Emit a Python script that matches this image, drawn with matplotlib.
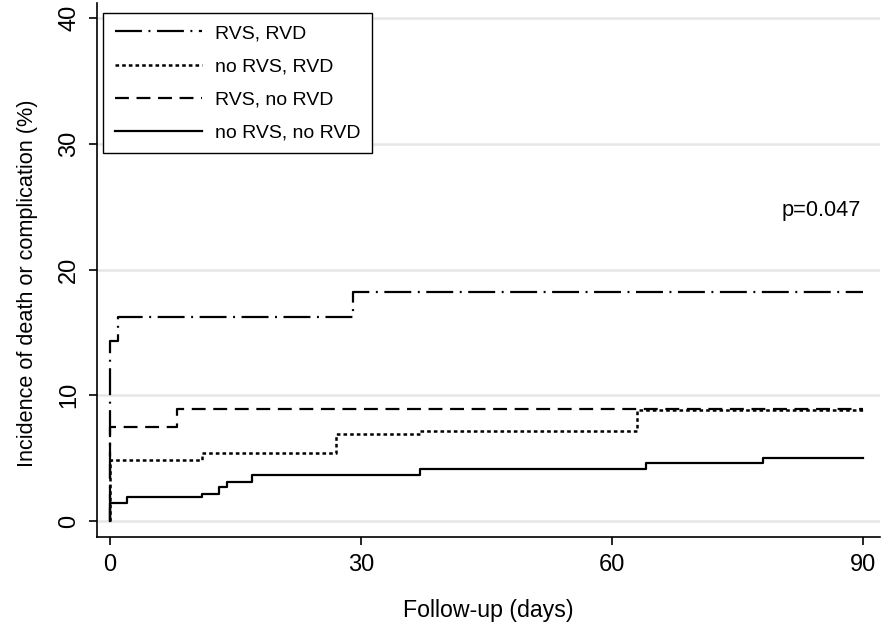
import matplotlib
matplotlib.use("Agg")
import matplotlib.pyplot as plt

plt.rcParams['font.family'] = ['Liberation Sans', 'DejaVu Sans']
plt.rcParams['lines.scale_dashes'] = False

# Data (step functions: time in days, cumulative incidence %)
t_rvs_rvd = [0, 0, 1, 29, 90]
y_rvs_rvd = [0, 14.3, 16.2, 18.2, 18.2]

t_norvs_rvd = [0, 0, 11, 27, 37, 63, 90]
y_norvs_rvd = [0, 4.85, 5.4, 6.9, 7.2, 8.8, 8.8]

t_rvs_norvd = [0, 0, 8, 90]
y_rvs_norvd = [0, 7.5, 8.9, 8.9]

t_norvs_norvd = [0, 0, 2, 11, 13, 14, 17, 37, 64, 78, 90]
y_norvs_norvd = [0, 1.4, 1.9, 2.15, 2.7, 3.1, 3.65, 4.1, 4.6, 5.05, 5.05]

labels = ["RVS, RVD", "no RVS, RVD", "RVS, no RVD", "no RVS, no RVD"]
xticks = [0, 30, 60, 90]
yticks = [0, 10, 20, 30, 40]

fig = plt.figure(figsize=(8.82, 6.24), dpi=100)
ax = fig.add_axes([97/882, 1 - 537/624, (880 - 97)/882, (537 - 3)/624])

lw = 1.6
ax.plot(t_rvs_rvd, y_rvs_rvd, drawstyle='steps-post', color='black', lw=lw,
        linestyle=(0, (19.4, 4.7, 1.4, 4.7)), label=labels[0])
ax.plot(t_norvs_rvd, y_norvs_rvd, drawstyle='steps-post', color='black', lw=1.8,
        linestyle=(0, (2.6, 2.2)), label=labels[1])
ax.plot(t_rvs_norvd, y_rvs_norvd, drawstyle='steps-post', color='black', lw=lw,
        linestyle=(0, (10, 5.5)), label=labels[2])
ax.plot(t_norvs_norvd, y_norvs_norvd, drawstyle='steps-post', color='black', lw=lw,
        linestyle='-', label=labels[3])

ax.set_xlim(-1.55, 92.0)
ax.set_ylim(-1.27, 41.2)
ax.set_xticks(xticks)
ax.set_yticks(yticks)
ax.set_yticklabels([str(v) for v in yticks], rotation=90, va='center')
ax.tick_params(axis='both', labelsize=17, length=6, width=1.2, direction='out', pad=6)
ax.yaxis.grid(True, color='#e6e6e6', lw=1.8)
ax.set_axisbelow(True)
for s in ['top', 'right']:
    ax.spines[s].set_visible(False)
for s in ['left', 'bottom']:
    ax.spines[s].set_linewidth(1.2)

ax.set_xlabel("Follow-up (days)", fontsize=16.7)
ax.set_ylabel("Incidence of death or complication (%)", fontsize=15.6)
# place labels at reference pixel positions
ax.xaxis.set_label_coords((488 - 97) / 783, -(611 - 537) / 534,
                          transform=ax.transAxes)
ax.xaxis.label.set_va('center')
ax.yaxis.set_label_coords(-(97 - 28) / 783, (537 - 283) / 534,
                          transform=ax.transAxes)
ax.yaxis.label.set_va('center')

ax.text(80.2, 24.7, "p=0.047", fontsize=15.7, va='center', ha='left')

leg = ax.legend(loc='upper left', bbox_to_anchor=(103/882, 1 - 13/624),
                bbox_transform=fig.transFigure, borderaxespad=0, fontsize=14,
                handlelength=4.5, handletextpad=0.67, borderpad=0.6,
                labelspacing=0.8, fancybox=False, framealpha=1,
                edgecolor='black')
leg.get_frame().set_linewidth(1.0)

fig.savefig("out.png", dpi=100)
